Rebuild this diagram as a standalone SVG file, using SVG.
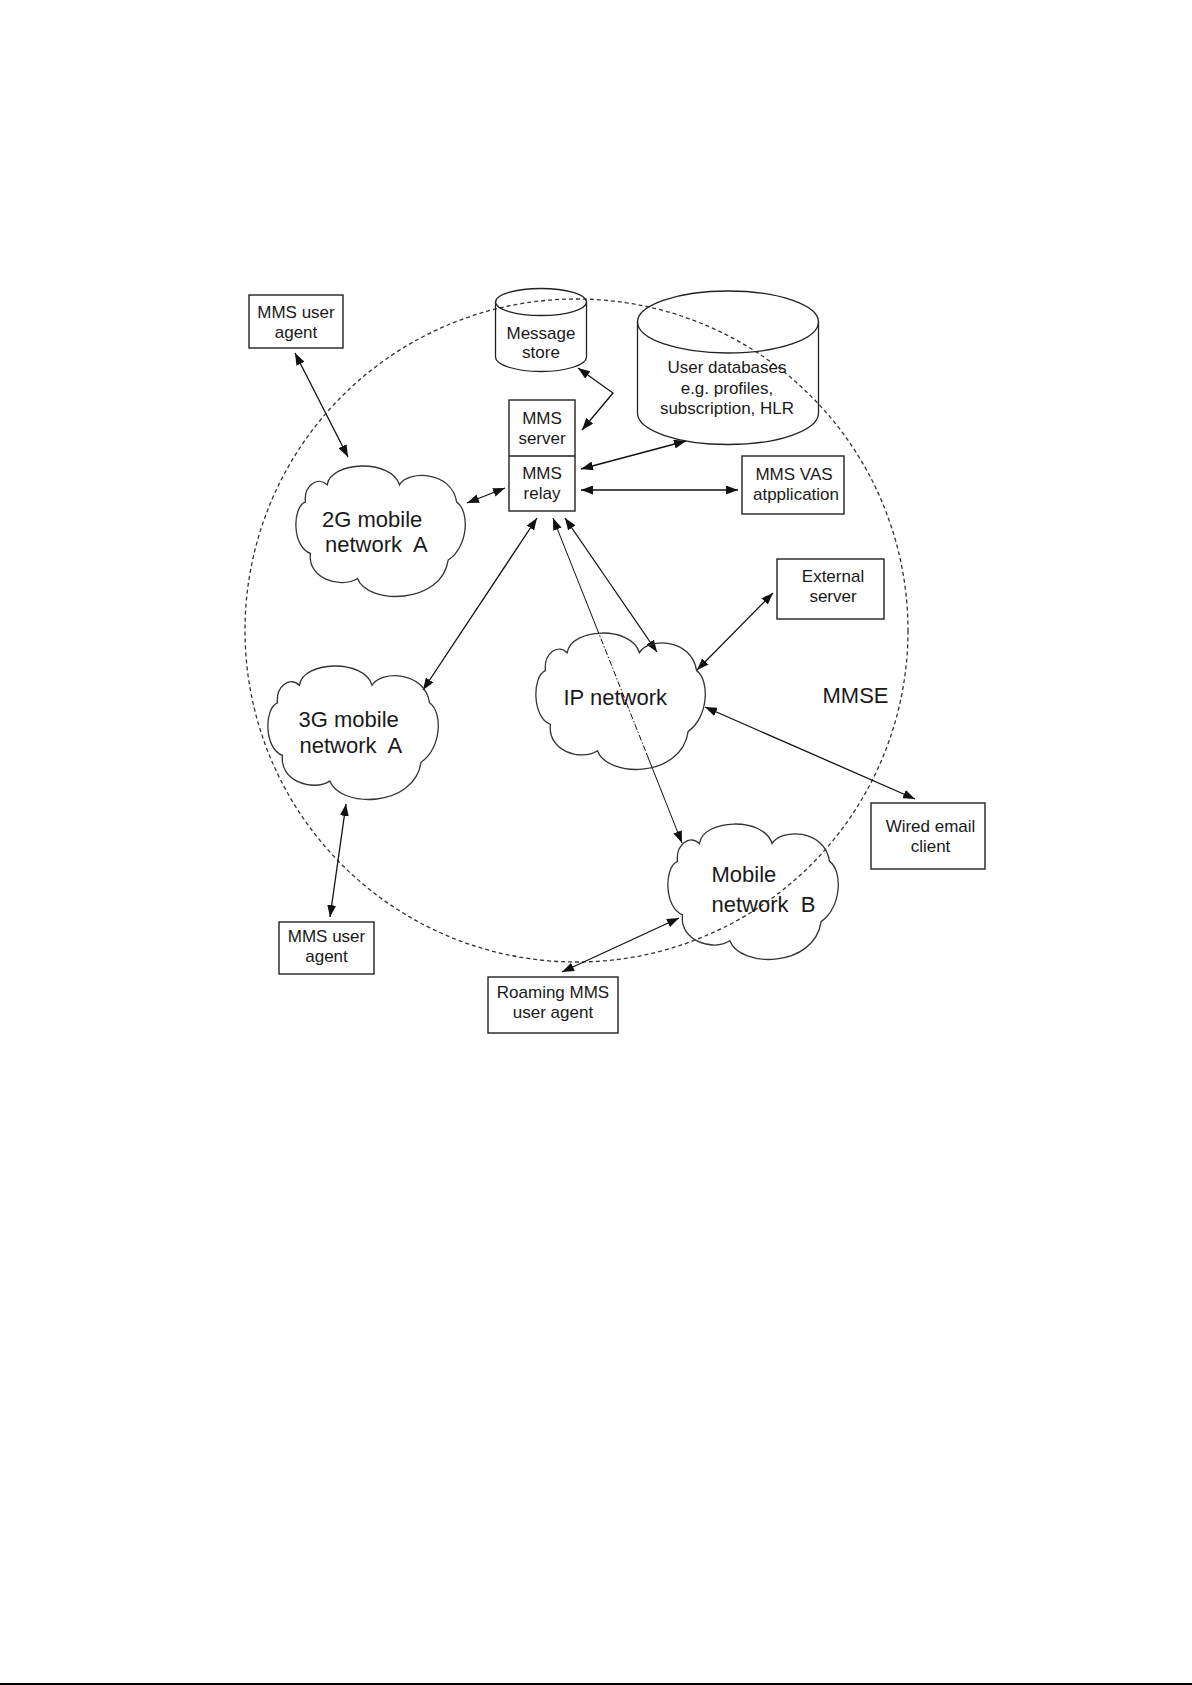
<svg xmlns="http://www.w3.org/2000/svg" xmlns:xlink="http://www.w3.org/1999/xlink" width="1192" height="1685" viewBox="0 0 1192 1685">
<style>
  .t { font-family: "Liberation Sans", Arial, sans-serif; font-size: 17px; fill: #1a1a1a; text-anchor: middle; }
  .tc { font-family: "Liberation Sans", Arial, sans-serif; font-size: 22px; fill: #1a1a1a; }
  .box { fill: none; stroke: #222; stroke-width: 1.4; }
  .shape { fill: none; stroke: #222; stroke-width: 1.3; }
  .cloud { fill: none; stroke: #333; stroke-width: 1.3; }
  .conn { fill: none; stroke: #111; stroke-width: 1.3; marker-start: url(#ah); marker-end: url(#ah); }
  .thin { fill: none; stroke: #111; stroke-width: 1; }
  .mmse { fill: none; stroke: #333; stroke-width: 1.3; stroke-dasharray: 4 3; }
</style>
<defs>
  <marker id="ah" viewBox="0 0 12 9" refX="12" refY="4.5" markerWidth="12" markerHeight="9" markerUnits="userSpaceOnUse" orient="auto-start-reverse">
    <path d="M0,0 L12,4.5 L0,9 z" fill="#111"/>
  </marker>
  <path id="cloud" d="M5,28 C4,16 12,8 18,15 C20,-3 56,-5 61,15 C66,4 92,4 95,28 C103,35 102,62 90,72 C86,106 42,106 36,86 C26,94 6,86 8,67 C-3,62 -3,32 5,28 Z" vector-effect="non-scaling-stroke"/>
</defs>
<rect x="0" y="0" width="1192" height="1685" fill="#ffffff"/>

<g id="mmse-boundary">
  <circle class="mmse" cx="576.5" cy="630.5" r="331.5"/>
  <text class="tc" x="822.5" y="702.5">MMSE</text>
</g>

<g id="connectors">
  <line class="conn" x1="295" y1="353" x2="348" y2="457"/>
  <polyline class="conn" points="578,368 613,393 582,430"/>
  <line class="conn" x1="467" y1="503" x2="505" y2="488"/>
  <line class="conn" x1="581" y1="469" x2="686" y2="441"/>
  <line class="conn" x1="581" y1="490" x2="738" y2="490"/>
  <line class="conn" x1="537" y1="518" x2="423" y2="690"/>
  <line class="thin" x1="553" y1="518" x2="596.7" y2="628" marker-start="url(#ah)"/>
  <line class="thin" x1="596.7" y1="628" x2="646.3" y2="753" stroke-dasharray="6 2 1.5 2"/>
  <line class="thin" x1="646.3" y1="753" x2="682" y2="843" marker-end="url(#ah)"/>
  <line class="conn" x1="565" y1="518" x2="657" y2="652"/>
  <line class="conn" x1="697" y1="670" x2="773" y2="593"/>
  <line class="conn" x1="705" y1="707" x2="915" y2="799"/>
  <line class="conn" x1="346" y1="804" x2="330" y2="917"/>
  <line class="conn" x1="562" y1="972" x2="679" y2="918"/>
</g>

<g id="ua-top">
  <rect class="box" x="249" y="295" width="94" height="53"/>
  <text class="t" x="296" y="317.5">MMS user</text>
  <text class="t" x="296" y="338">agent</text>
</g>

<g id="message-store">
  <ellipse class="shape" cx="541" cy="302" rx="45.5" ry="13.5"/>
  <path class="shape" d="M495.5,302 V357 A45.5,14.5 0 0 0 586.5,357 V302"/>
  <text class="t" x="541" y="338.5">Message</text>
  <text class="t" x="541" y="357.5">store</text>
</g>

<g id="user-databases">
  <ellipse class="shape" cx="728" cy="322" rx="90.5" ry="31"/>
  <path class="shape" d="M637.5,322 V413 A90.5,31.5 0 0 0 818.5,413 V322"/>
  <text class="t" x="727" y="372.5">User databases</text>
  <text class="t" x="727" y="393.5">e.g. profiles,</text>
  <text class="t" x="727" y="414">subscription, HLR</text>
</g>

<g id="mms-server-relay">
  <rect class="box" x="509" y="400" width="66" height="111"/>
  <line class="box" x1="509" y1="456" x2="575" y2="456"/>
  <text class="t" x="542" y="423.5">MMS</text>
  <text class="t" x="542" y="444">server</text>
  <text class="t" x="542" y="478.5">MMS</text>
  <text class="t" x="542" y="499">relay</text>
</g>

<g id="mms-vas">
  <rect class="box" x="742" y="456" width="102" height="58"/>
  <text class="t" x="794" y="479.5">MMS VAS</text>
  <text class="t" x="796" y="499.5">atpplication</text>
</g>

<g id="cloud-2g">
  <use xlink:href="#cloud" class="cloud" transform="translate(297,465) scale(1.68,1.32)"/>
  <text class="tc" x="322" y="526.5" xml:space="preserve">2G mobile</text>
  <text class="tc" x="325" y="551.5" xml:space="preserve">network  A</text>
</g>

<g id="cloud-3g">
  <use xlink:href="#cloud" class="cloud" transform="translate(269,665) scale(1.69,1.35)"/>
  <text class="tc" x="298.5" y="726.5" xml:space="preserve">3G mobile</text>
  <text class="tc" x="299.5" y="753" xml:space="preserve">network  A</text>
</g>

<g id="cloud-ip">
  <use xlink:href="#cloud" class="cloud" transform="translate(537,632) scale(1.68,1.38)"/>
  <text class="tc" x="563.5" y="705">IP network</text>
</g>

<g id="cloud-mobile-b">
  <use xlink:href="#cloud" class="cloud" transform="translate(669,823) scale(1.69,1.37)"/>
  <text class="tc" x="711.5" y="881.5" xml:space="preserve">Mobile</text>
  <text class="tc" x="711.5" y="911.5" xml:space="preserve">network  B</text>
</g>

<g id="external-server">
  <rect class="box" x="777" y="559" width="107" height="60"/>
  <text class="t" x="833" y="581.5">External</text>
  <text class="t" x="833" y="601.5">server</text>
</g>

<g id="wired-email">
  <rect class="box" x="871" y="803" width="114" height="66"/>
  <text class="t" x="930.5" y="831.5">Wired email</text>
  <text class="t" x="930.5" y="851.5">client</text>
</g>

<g id="ua-bottom">
  <rect class="box" x="279" y="922" width="95" height="52"/>
  <text class="t" x="326.5" y="941.5">MMS user</text>
  <text class="t" x="326.5" y="962">agent</text>
</g>

<g id="roaming-ua">
  <rect class="box" x="488" y="977" width="130" height="56"/>
  <text class="t" x="553" y="997.5">Roaming MMS</text>
  <text class="t" x="553" y="1017.5">user agent</text>
</g>

<line x1="0" y1="1684" x2="1192" y2="1684" stroke="#000" stroke-width="2"/>
</svg>
